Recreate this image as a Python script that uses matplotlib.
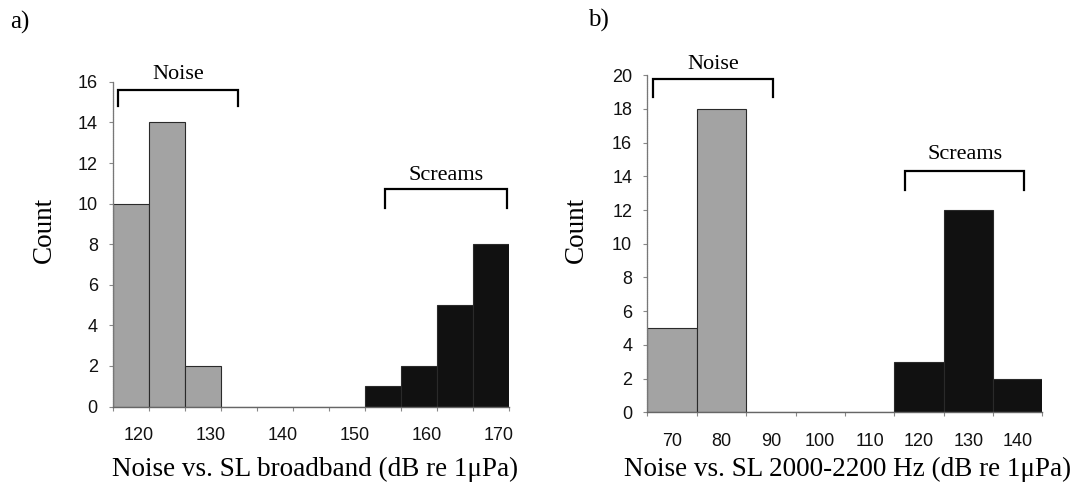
import matplotlib
matplotlib.use("Agg")
import matplotlib.pyplot as plt
import numpy as np

# ---------------- data ----------------
# Panel a) broadband
a_bin_start = 116.5
a_bin_width = 5
a_counts = [10, 14, 2, 0, 0, 0, 0, 1, 2, 5, 8]
a_groups = ["noise", "noise", "noise", "none", "none", "none", "none",
            "scream", "scream", "scream", "scream"]
a_xticklabels = [120, 130, 140, 150, 160, 170]
a_yticks = [0, 2, 4, 6, 8, 10, 12, 14, 16]

# Panel b) 2000-2200 Hz
b_bin_start = 65
b_bin_width = 10
b_counts = [5, 18, 0, 0, 0, 3, 12, 2]
b_groups = ["noise", "noise", "none", "none", "none",
            "scream", "scream", "scream"]
b_xticklabels = [70, 80, 90, 100, 110, 120, 130, 140]
b_yticks = [0, 2, 4, 6, 8, 10, 12, 14, 16, 18, 20]

group_colors = {"noise": "#a3a3a3", "scream": "#111111", "none": "#ffffff"}

SERIF = ["Liberation Serif", "DejaVu Serif"]
SANS = ["Liberation Sans", "DejaVu Sans"]

fig = plt.figure(figsize=(10.86, 4.88), dpi=100)
axA = fig.add_axes([0.1041, 0.167, 0.3649, 0.6652])
axB = fig.add_axes([0.5962, 0.155, 0.3636, 0.6910])


def draw_panel(ax, start, width, counts, groups, xticklabels, yticks, xlabel):
    n = len(counts)
    edges = start + width * np.arange(n + 1)
    lefts = edges[:-1]
    cols = [group_colors[g] for g in groups]
    ax.bar(lefts, counts, width=width, align="edge", color=cols,
           edgecolor="#2a2a2a", linewidth=0.8, zorder=2)
    ax.set_xlim(edges[0], edges[-1])
    ax.set_ylim(0, yticks[-1])
    for s in ["top", "right"]:
        ax.spines[s].set_visible(False)
    ax.spines["left"].set_color("#777777")
    ax.spines["left"].set_linewidth(0.9)
    ax.spines["left"].set_linestyle((0, (1, 0.6)))
    ax.spines["bottom"].set_color("#666666")
    ax.spines["bottom"].set_linewidth(1.0)
    ax.set_yticks(yticks)
    ax.set_xticks(edges)
    ax.set_xticklabels([])
    ax.set_xticks(xticklabels, minor=True)
    ax.set_xticklabels([str(v) for v in xticklabels], minor=True)
    ax.tick_params(axis="x", which="major", length=3, width=0.8,
                   color="#888888", direction="out")
    ax.tick_params(axis="x", which="minor", length=0, pad=15,
                   labelsize=13, labelcolor="#111111")
    ax.tick_params(axis="y", length=3, width=0.8, color="#888888",
                   pad=8, labelsize=13, labelcolor="#111111")
    for lab in ax.get_xticklabels(minor=True) + ax.get_yticklabels():
        lab.set_family(SANS)
    ax.set_ylabel("Count", family=SERIF, fontsize=19.5)
    ax.set_xlabel(xlabel, family=SERIF, fontsize=19.5)


draw_panel(axA, a_bin_start, a_bin_width, a_counts, a_groups, a_xticklabels,
           a_yticks, "Noise vs. SL broadband (dB re 1\u03bcPa)")
draw_panel(axB, b_bin_start, b_bin_width, b_counts, b_groups, b_xticklabels,
           b_yticks, "Noise vs. SL 2000-2200 Hz (dB re 1\u03bcPa)")

axA.yaxis.set_label_coords(-0.141, 0.544)
axA.xaxis.set_label_coords(0.51, -0.155)
axB.yaxis.set_label_coords(-0.148, 0.541)
axB.xaxis.set_label_coords(0.507, -0.133)


def bracket(ax, x0, x1, ytop, ybot, label, ylab):
    ax.plot([x0, x0, x1, x1], [ybot, ytop, ytop, ybot], color="black",
            linewidth=1.6, clip_on=False, zorder=3,
            solid_joinstyle="miter")
    ax.text((x0 + x1) / 2, ylab, label,
            family=SERIF, fontsize=16, ha="center", va="center",
            clip_on=False)


bracket(axA, 117.2, 133.9, 15.6, 14.8, "Noise", 16.35)
bracket(axA, 154.2, 171.2, 10.7, 9.8, "Screams", 11.4)
bracket(axB, 66.2, 90.4, 19.8, 18.7, "Noise", 20.65)
bracket(axB, 117.2, 141.3, 14.3, 13.2, "Screams", 15.3)

fig.text(20 / 1086, 1 - 22 / 488, "a)", family=SERIF, fontsize=18,
         ha="center", va="center")
fig.text(598 / 1086, 1 - 20 / 488, "b)", family=SERIF, fontsize=18,
         ha="center", va="center")

fig.savefig("out.png", dpi=100, facecolor="white")
